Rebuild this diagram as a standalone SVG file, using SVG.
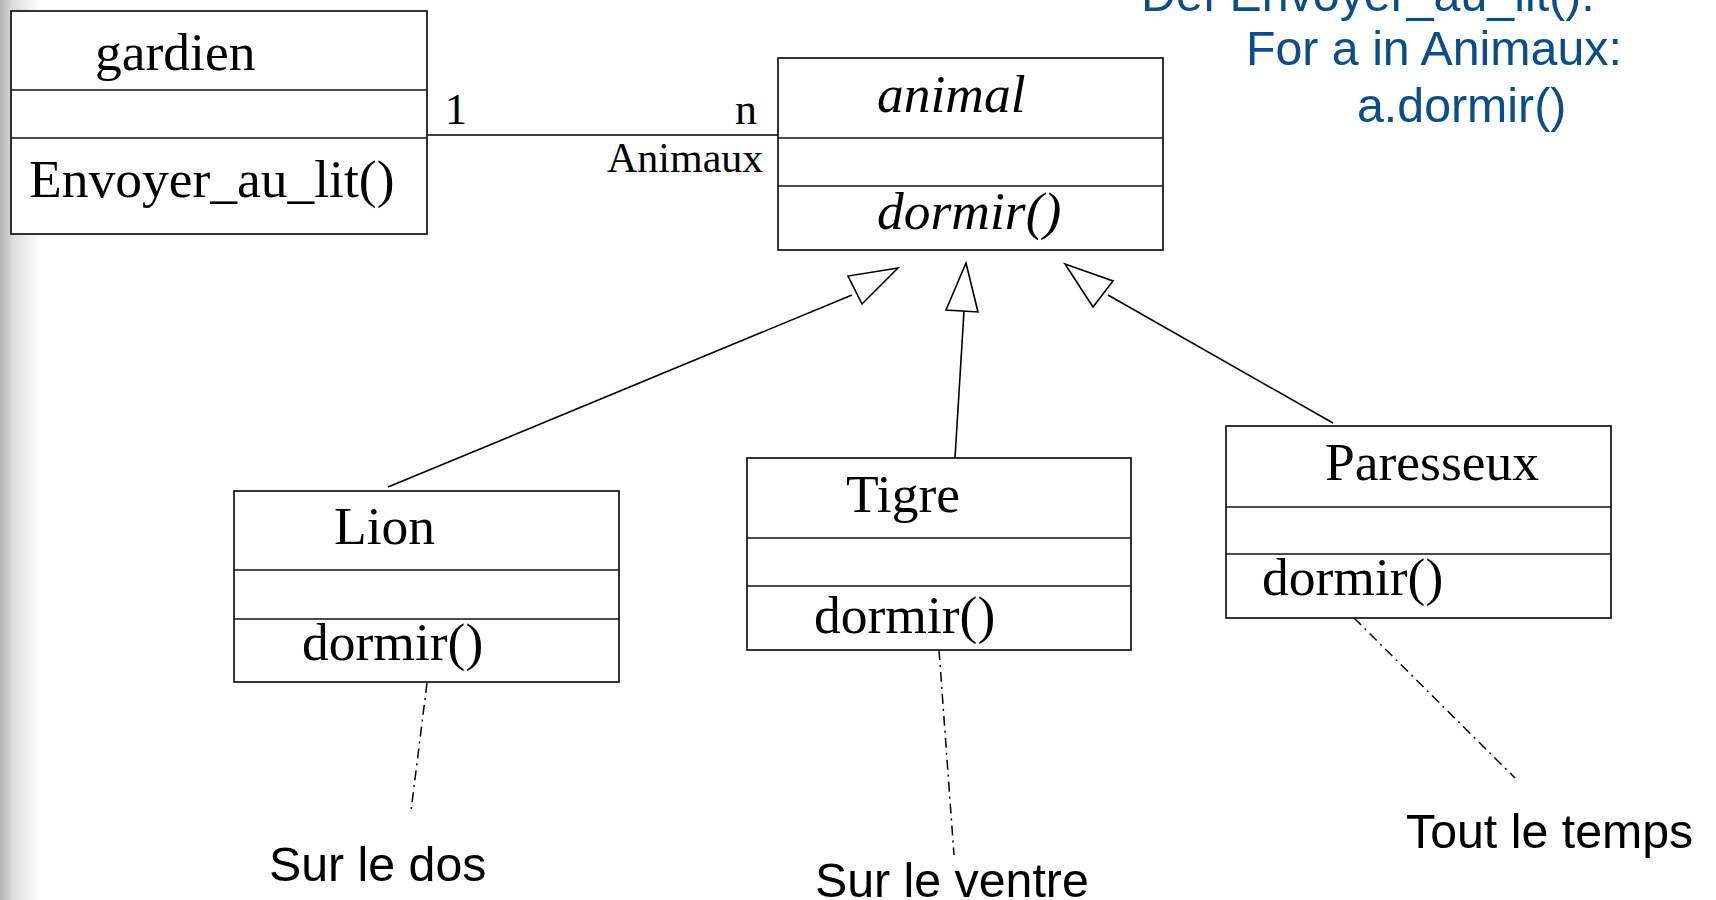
<svg xmlns="http://www.w3.org/2000/svg" width="1716" height="900" viewBox="0 0 1716 900">
<defs>
<linearGradient id="edge" x1="0" y1="0" x2="1" y2="0">
<stop offset="0" stop-color="#b4b4b4"/>
<stop offset="0.35" stop-color="#dedede"/>
<stop offset="1" stop-color="#ffffff"/>
</linearGradient>
<style>
.box{fill:#fff;stroke:#111;stroke-width:1.7}
.sep{stroke:#111;stroke-width:1.7}
.t{font-family:"Liberation Serif","Times New Roman",serif;font-size:53.5px;fill:#000}
.ti{font-family:"Liberation Serif","Times New Roman",serif;font-size:53.5px;font-style:italic;fill:#000}
.ts{font-family:"Liberation Serif","Times New Roman",serif;fill:#000}
.a{font-family:"Liberation Sans",Arial,sans-serif;font-size:48.3px;fill:#000}
.blue{font-family:"Liberation Sans",Arial,sans-serif;font-size:48.3px;fill:#0b4c8a}
.ln{stroke:#000;stroke-width:1.6;fill:none}
.tri{stroke:#000;stroke-width:1.6;fill:#fff;stroke-linejoin:miter}
.dash{stroke:#000;stroke-width:1.5;fill:none;stroke-dasharray:10 5 2 5}
</style>
</defs>
<rect x="0" y="0" width="1716" height="900" fill="#fff"/>
<rect x="0" y="0" width="40" height="900" fill="url(#edge)"/>

<g id="connectors">
<line class="ln" x1="427" y1="135" x2="778" y2="135"/>
<line class="ln" x1="388" y1="487" x2="852" y2="295"/>
<polygon class="tri" points="898,268 848,276 862,304"/>
<line class="ln" x1="955" y1="458" x2="964" y2="311"/>
<polygon class="tri" points="966,263 946,310 978,312"/>
<line class="ln" x1="1333" y1="423" x2="1108" y2="295"/>
<polygon class="tri" points="1065,264 1113,281 1093,307"/>
<line class="dash" x1="427" y1="683" x2="411" y2="811"/>
<line class="dash" x1="939" y1="650" x2="954" y2="855"/>
<line class="dash" x1="1354" y1="618" x2="1515" y2="778"/>
</g>

<g id="gardien">
<rect class="box" x="11" y="11" width="416" height="223"/>
<line class="sep" x1="11" y1="90" x2="427" y2="90"/>
<line class="sep" x1="11" y1="138" x2="427" y2="138"/>
<text class="t" x="95" y="70">gardien</text>
<text class="t" x="29" y="197">Envoyer_au_lit()</text>
</g>

<g id="assoc-labels">
<text class="ts" x="445" y="124" font-size="44">1</text>
<text class="ts" x="735" y="124" font-size="44">n</text>
<text class="ts" x="607" y="172" font-size="42">Animaux</text>
</g>

<g id="animal">
<rect class="box" x="778" y="58" width="385" height="192"/>
<line class="sep" x1="778" y1="138" x2="1163" y2="138"/>
<line class="sep" x1="778" y1="186" x2="1163" y2="186"/>
<text class="ti" x="877" y="112">animal</text>
<text class="ti" x="877" y="229">dormir()</text>
</g>

<g id="lion">
<rect class="box" x="234" y="491" width="385" height="191"/>
<line class="sep" x1="234" y1="570" x2="619" y2="570"/>
<line class="sep" x1="234" y1="619" x2="619" y2="619"/>
<text class="t" x="334" y="544">Lion</text>
<text class="t" x="302" y="660">dormir()</text>
</g>

<g id="tigre">
<rect class="box" x="747" y="458" width="384" height="192"/>
<line class="sep" x1="747" y1="538" x2="1131" y2="538"/>
<line class="sep" x1="747" y1="586" x2="1131" y2="586"/>
<text class="t" x="846" y="512">Tigre</text>
<text class="t" x="814" y="633">dormir()</text>
</g>

<g id="paresseux">
<rect class="box" x="1226" y="426" width="385" height="192"/>
<line class="sep" x1="1226" y1="507" x2="1611" y2="507"/>
<line class="sep" x1="1226" y1="554" x2="1611" y2="554"/>
<text class="t" x="1325" y="480">Paresseux</text>
<text class="t" x="1262" y="595">dormir()</text>
</g>

<g id="notes">
<text class="a" x="269" y="881">Sur le dos</text>
<text class="a" x="815" y="897">Sur le ventre</text>
<text class="a" x="1406" y="848">Tout le temps</text>
</g>

<g id="code">
<text class="blue" x="1141" y="11">Def Envoyer_au_lit():</text>
<text class="blue" x="1246" y="65">For a in Animaux:</text>
<text class="blue" x="1357" y="122">a.dormir()</text>
</g>
</svg>
